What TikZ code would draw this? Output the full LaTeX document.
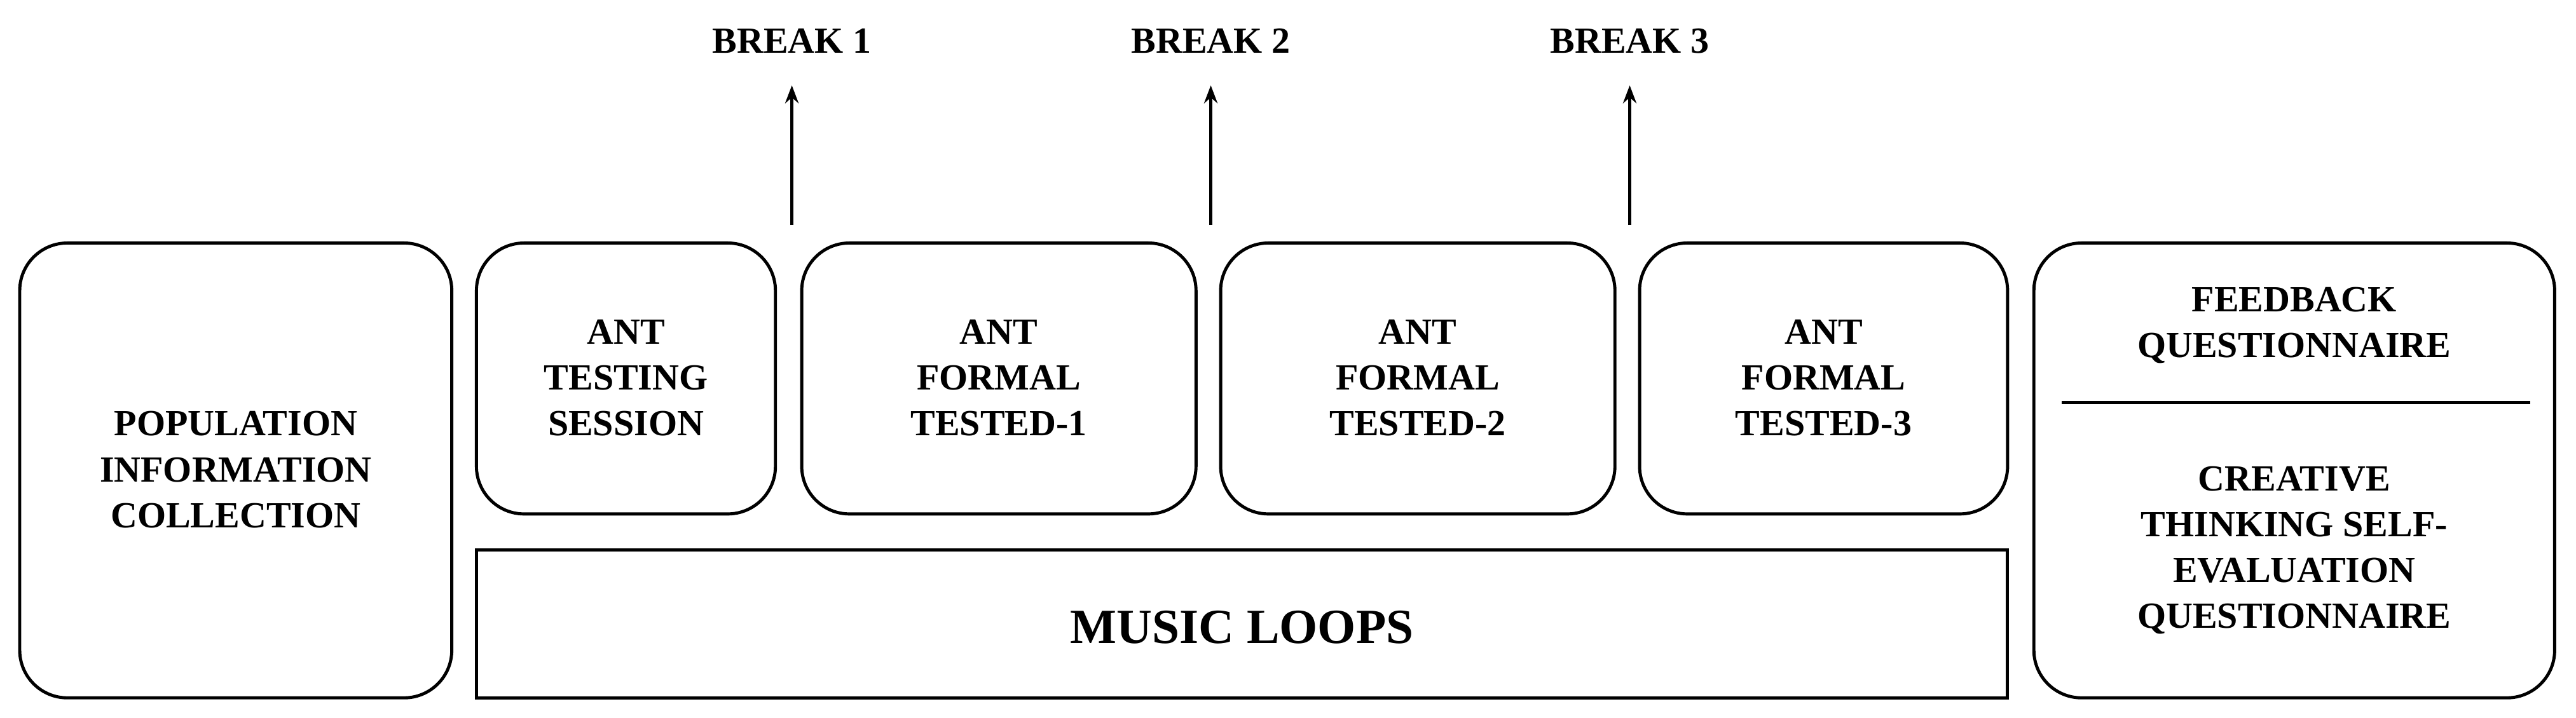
\documentclass[tikz,border=0pt]{standalone}
\usepackage{fontspec}
\setmainfont{Liberation Serif}
\usetikzlibrary{arrows.meta}
\begin{document}
\begin{tikzpicture}[x=0.02584cm,y=-0.02584cm,
  box/.style={draw,line width=1.4pt,rounded corners=0.75cm},
  lbl/.style={font=\bfseries\fontsize{16.5}{20.5}\selectfont,align=center},
  arr/.style={-{Stealth[length=8pt,width=6pt]},line width=1.3pt}]
\useasboundingbox[fill=white] (0,0) rectangle (1568,437);
\draw[box] (12,148) rectangle (275,425);
\node[lbl] (pop) at (143.5,286) {POPULATION\\INFORMATION\\COLLECTION};
\draw[box] (290,148) rectangle (472,313);
\node[lbl] (t0) at (381,230) {ANT\\TESTING\\SESSION};
\draw[box] (488,148) rectangle (728,313);
\node[lbl] (t1) at (608,230) {ANT\\FORMAL\\TESTED-1};
\draw[box] (743,148) rectangle (983,313);
\node[lbl] (t2) at (863,230) {ANT\\FORMAL\\TESTED-2};
\draw[box] (998,148) rectangle (1222,313);
\node[lbl] (t3) at (1110,230) {ANT\\FORMAL\\TESTED-3};
\draw[line width=1.4pt] (290,335) rectangle (1222,425);
\node[font=\bfseries\fontsize{22}{26}\selectfont] (ml) at (756,382) {MUSIC LOOPS};
\draw[box] (1238,148) rectangle (1555,425);
\node[lbl] (fb) at (1396.5,198) {FEEDBACK\\QUESTIONNAIRE};
\draw[line width=1.4pt] (1255,245) -- (1540,245);
\node[lbl] (ct) at (1396.5,335) {CREATIVE\\THINKING SELF-\\EVALUATION\\QUESTIONNAIRE};
\coordinate (a1) at (482,137); \coordinate (a2) at (737,137); \coordinate (a3) at (992,137);
\node[lbl] (b1) at (482,25) {BREAK 1};
\node[lbl] (b2) at (737,25) {BREAK 2};
\node[lbl] (b3) at (992,25) {BREAK 3};
\draw[arr] (a1) -- (482,52);
\draw[arr] (a2) -- (737,52);
\draw[arr] (a3) -- (992,52);
\end{tikzpicture}
\end{document}
